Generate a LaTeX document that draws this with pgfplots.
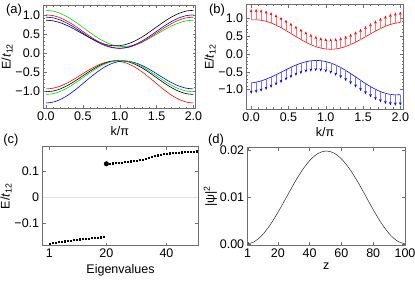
\documentclass[border=0pt]{standalone}
\usepackage{pgfplots}
\pgfplotsset{compat=1.18}
\usepackage{pgfplotstable}
\usepackage{fontspec}
\setmainfont{Liberation Sans}
\usetikzlibrary{arrows.meta}
\definecolor{framegray}{RGB}{110,110,110}
\definecolor{mgreen}{RGB}{0,220,0}

\pgfplotstableread{
k gt bkt rt bt rb bb bkb gb
0.0 1.120 0.860 1.000 0.940 -0.950 -1.320 -1.025 -1.095
0.1 1.098 0.842 0.979 0.920 -0.930 -1.296 -1.004 -1.074
0.2 1.035 0.790 0.917 0.860 -0.872 -1.224 -0.945 -1.011
0.3 0.937 0.709 0.822 0.768 -0.783 -1.112 -0.852 -0.914
0.4 0.812 0.608 0.701 0.652 -0.671 -0.970 -0.735 -0.791
0.5 0.672 0.498 0.566 0.524 -0.549 -0.811 -0.605 -0.655
0.6 0.530 0.390 0.431 0.396 -0.431 -0.648 -0.477 -0.518
0.7 0.398 0.296 0.309 0.282 -0.329 -0.497 -0.361 -0.393
0.8 0.289 0.226 0.211 0.192 -0.255 -0.369 -0.271 -0.293
0.9 0.210 0.189 0.146 0.136 -0.218 -0.276 -0.216 -0.226
1.0 0.170 0.190 0.120 0.120 -0.225 -0.225 -0.200 -0.200
1.1 0.170 0.230 0.136 0.146 -0.276 -0.218 -0.226 -0.216
1.2 0.208 0.307 0.192 0.211 -0.369 -0.255 -0.293 -0.271
1.3 0.280 0.414 0.282 0.309 -0.497 -0.329 -0.393 -0.361
1.4 0.377 0.543 0.396 0.431 -0.648 -0.431 -0.518 -0.477
1.5 0.488 0.682 0.524 0.566 -0.811 -0.549 -0.655 -0.605
1.6 0.602 0.819 0.652 0.701 -0.970 -0.671 -0.791 -0.735
1.7 0.705 0.941 0.768 0.822 -1.112 -0.783 -0.914 -0.852
1.8 0.788 1.037 0.860 0.917 -1.224 -0.872 -1.011 -0.945
1.9 0.842 1.099 0.920 0.979 -1.296 -0.930 -1.074 -1.004
2.0 0.860 1.120 0.940 1.000 -1.320 -0.950 -1.095 -1.025
}\tablea

\pgfplotstableread{
k red blue
0.0000 0.945 -0.815
0.0667 0.949 -0.792
0.1333 0.936 -0.756
0.2000 0.906 -0.707
0.2667 0.860 -0.649
0.3333 0.800 -0.584
0.4000 0.729 -0.514
0.4667 0.650 -0.444
0.5333 0.566 -0.376
0.6000 0.482 -0.315
0.6667 0.399 -0.263
0.7333 0.323 -0.223
0.8000 0.256 -0.197
0.8667 0.201 -0.186
0.9333 0.160 -0.193
1.0000 0.135 -0.217
1.0667 0.127 -0.257
1.1333 0.136 -0.313
1.2000 0.162 -0.382
1.2667 0.203 -0.463
1.3333 0.258 -0.551
1.4000 0.324 -0.644
1.4667 0.398 -0.738
1.5333 0.476 -0.830
1.6000 0.556 -0.915
1.6667 0.633 -0.991
1.7333 0.704 -1.054
1.8000 0.767 -1.102
1.8667 0.818 -1.133
1.9333 0.854 -1.146
2.0000 0.875 -1.140
}\tableb

\pgfplotstableread{
n E
1 -0.176
2 -0.174
3 -0.172
4 -0.170
5 -0.169
6 -0.167
7 -0.165
8 -0.164
9 -0.162
10 -0.161
11 -0.159
12 -0.158
13 -0.157
14 -0.156
15 -0.155
16 -0.154
17 -0.153
18 -0.152
19 -0.151
}\tableclow

\pgfplotstableread{
n E
21 0.128
22 0.129
23 0.130
24 0.131
25 0.132
26 0.134
27 0.135
28 0.137
29 0.138
30 0.140
31 0.142
32 0.144
33 0.147
34 0.150
35 0.153
36 0.157
37 0.160
38 0.163
39 0.165
40 0.166
41 0.167
42 0.168
43 0.169
44 0.170
45 0.171
46 0.172
47 0.173
48 0.173
49 0.174
50 0.175
}\tablechigh

\pgfplotstableread{
z p
1 0.0000191
5 0.000475
10 0.001854
15 0.004008
20 0.006723
25 0.009747
30 0.01278
35 0.01555
40 0.01776
45 0.01923
50 0.01980
55 0.01942
60 0.01812
65 0.01605
70 0.01338
75 0.01038
80 0.007314
85 0.004508
90 0.002221
95 0.000677
100 0.0000191
}\tabled

\pgfplotsset{
  mystyle/.style={
    scale only axis,
    anchor=south west,
    axis line style={framegray, line width=0.6pt},
    tick style={framegray, line width=0.4pt},
    major tick length=3pt,
    minor tick length=1.6pt,
    tick align=inside,
    tick pos=both,
    scaled ticks=false,
    /pgf/number format/assume math mode=true,
    ticklabel style={font=\fontsize{12.5}{14}\selectfont, text=black},
    label style={font=\fontsize{12.5}{14}\selectfont},
    ylabel shift=-4pt,
    xlabel shift=-1pt,
    clip=true,
  }
}

\begin{document}
\begin{tikzpicture}
\useasboundingbox (0,0) rectangle (415pt,281pt);

% (a)
\begin{axis}[mystyle, at={(43.7pt,172.7pt)}, width=152pt, height=103.3pt,
  xmin=-0.03, xmax=2.03, ymin=-1.46, ymax=1.26,
  xtick={0,0.5,1,1.5,2}, xticklabels={0.0,0.5,1.0,1.5,2.0},
  ytick={-1,-0.5,0,0.5,1}, yticklabels={−1.0,−0.5,0.0,0.5,1.0},
  minor x tick num=4, minor y tick num=4,
  xlabel={k/π}, ylabel={E/\textit{t}\textsubscript{12}}]
\addplot[mgreen, line width=0.6pt, smooth] table[x=k,y=gt] {\tablea};
\addplot[black, line width=0.6pt, smooth] table[x=k,y=bkt] {\tablea};
\addplot[red, line width=0.6pt, smooth] table[x=k,y=rt] {\tablea};
\addplot[blue, line width=0.6pt, smooth] table[x=k,y=bt] {\tablea};
\addplot[red, line width=0.6pt, smooth] table[x=k,y=rb] {\tablea};
\addplot[blue, line width=0.6pt, smooth] table[x=k,y=bb] {\tablea};
\addplot[black, line width=0.6pt, smooth] table[x=k,y=bkb] {\tablea};
\addplot[mgreen, line width=0.6pt, smooth] table[x=k,y=gb] {\tablea};
\end{axis}

% (b)
\begin{axis}[mystyle, at={(246.7pt,172pt)}, width=156.6pt, height=104.3pt,
  xmin=-0.06, xmax=2.04, ymin=-1.54, ymax=1.37,
  xtick={0,0.5,1,1.5,2}, xticklabels={0.0,0.5,1.0,1.5,2.0},
  ytick={-1,-0.5,0,0.5,1}, yticklabels={−1.0,−0.5,0.0,0.5,1.0},
  minor x tick num=4, minor y tick num=4,
  xlabel={k/π}, ylabel={E/\textit{t}\textsubscript{12}}]
\addplot[red, line width=0.6pt, smooth] table[x=k,y=red] {\tableb};
\addplot[blue, line width=0.6pt, smooth] table[x=k,y=blue] {\tableb};
\addplot[red!55, line width=0.35pt,
  quiver={u=0,v=0.3, every arrow/.append style={-{Stealth[length=3.2pt,width=2.6pt,color=red]}}}]
  table[x=k,y=red] {\tableb};
\addplot[blue!55, line width=0.35pt,
  quiver={u=0,v=-0.3, every arrow/.append style={-{Stealth[length=3.2pt,width=2.6pt,color=blue]}}}]
  table[x=k,y=blue] {\tableb};
\end{axis}

% (c)
\begin{axis}[mystyle, at={(42.7pt,35.3pt)}, width=155.6pt, height=99pt,
  xmin=-1.2, xmax=50.6, ymin=-0.184, ymax=0.192,
  xtick={1,20,40}, xticklabels={1,20,40},
  ytick={-0.1,0,0.1}, yticklabels={−0.1,0,0.1},
  minor x tick num=0, minor y tick num=0,
  xlabel={Eigenvalues}, ylabel={E/\textit{t}\textsubscript{12}}]
\addplot[black!12, line width=0.6pt] coordinates {(-1.2,0) (50.6,0)};
\addplot[black, only marks, mark=square*, mark size=0.6pt] table[x=n,y=E] {\tableclow};
\addplot[black, only marks, mark=square*, mark size=0.6pt] table[x=n,y=E] {\tablechigh};
\addplot[black, only marks, mark=*, mark size=2.3pt] coordinates {(20,0.127)};
\end{axis}

% (d)
\begin{axis}[mystyle, at={(247.7pt,36pt)}, width=157.3pt, height=97.3pt,
  xmin=1, xmax=100, ymin=-0.0002, ymax=0.0205,
  xtick={1,20,40,60,80,100}, xticklabels={1,20,40,60,80,100},
  ytick={0,0.01,0.02}, yticklabels={0.00,0.01,0.02},
  minor x tick num=0, minor y tick num=0,
  xlabel={z}, ylabel={|ψ|\textsuperscript{2}}]
\addplot[black!85, line width=0.5pt, smooth] table[x=z,y=p] {\tabled};
\end{axis}

\node[font=\fontsize{13}{15}\selectfont] at (14pt,271pt) {(a)};
\node[font=\fontsize{13}{15}\selectfont] at (217pt,271pt) {(b)};
\node[font=\fontsize{13}{15}\selectfont] at (11pt,141pt) {(c)};
\node[font=\fontsize{13}{15}\selectfont] at (216pt,141pt) {(d)};
\end{tikzpicture}
\end{document}
